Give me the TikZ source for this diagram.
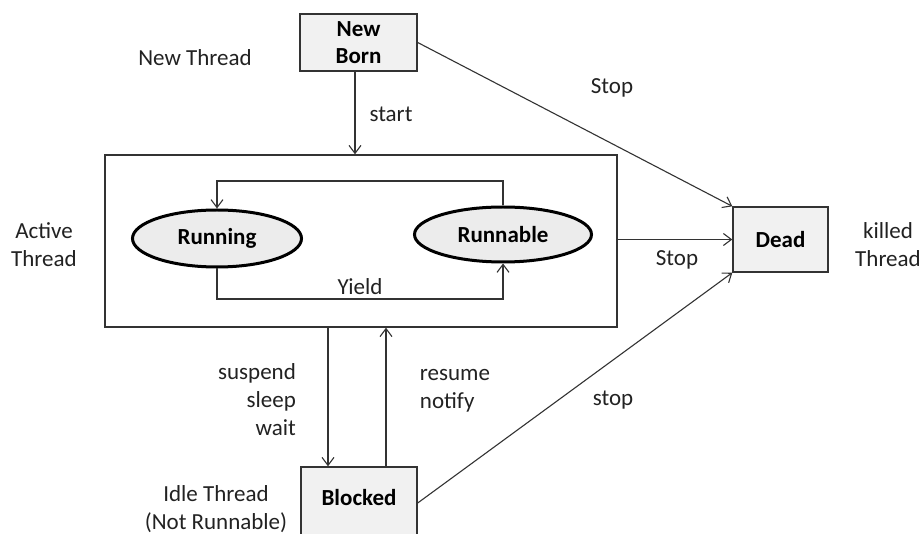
\documentclass[tikz,border=0pt]{standalone}
\usepackage{fontspec}
\setmainfont{Carlito}
\usetikzlibrary{arrows.meta,shapes.geometric,positioning}

\definecolor{boxfill}{HTML}{F1F1F1}
\definecolor{ovalfill}{HTML}{ECECEC}
\definecolor{linegray}{HTML}{333333}
\definecolor{inkgray}{HTML}{222222}

\tikzset{
  lbl/.style={font=\fontsize{23}{28}\selectfont, text=inkgray, inner sep=0pt, align=center},
  stname/.style={font=\fontsize{23}{28}\selectfont\bfseries, text=black, inner sep=0pt, align=center},
  statebox/.style={draw=linegray, line width=1.4pt, fill=boxfill, rectangle, inner sep=0pt,
                   font=\fontsize{23}{28}\selectfont\bfseries, align=center},
  stateoval/.style={draw=black, line width=3pt, fill=ovalfill, ellipse, inner sep=0pt,
                    font=\fontsize{23}{28}\selectfont\bfseries},
  frame/.style={draw=linegray, line width=1.4pt, rectangle, inner sep=0pt},
  arr/.style={draw=linegray, line width=1.1pt, -{Straight Barb[length=8pt,width=12pt,line width=1.1pt]}}
}

\begin{document}
\begin{tikzpicture}[x=1pt,y=-1pt]
\useasboundingbox[fill=white] (0,0) rectangle (919,534);
\begin{scope}
\clip (0,0) rectangle (919,534);

% states
\node[statebox, minimum width=117, minimum height=57] (newborn) at (358.5,42.5) {New\\[-1pt]Born};
\node[frame, minimum width=512, minimum height=172] (active) at (361,241) {};
\node[stateoval, minimum width=169, minimum height=57] (running) at (217,238.5) {Running};
\node[stateoval, minimum width=177, minimum height=55] (runnable) at (503,234.5) {Runnable};
\node[statebox, minimum width=95, minimum height=65] (dead) at (780.5,239.5) {Dead};
\node[statebox, minimum width=116, minimum height=72] (blocked) at (359,503) {};
\node[stname] (blockedtxt) at (359,498) {Blocked};

% side captions
\node[lbl] (capnew) at (195,58) {New Thread};
\node[lbl] (capactive) at (44,245) {Active\\Thread};
\node[lbl] (capdead) at (888,245) {\hfill killed\\Thread};
\node[lbl] (capidle) at (216,509) {Idle Thread\\(Not Runnable)};

% loop inside the active frame
\coordinate (looptop) at (0,181);
\coordinate (loopbot) at (0,299);
\draw[arr] (runnable.north) -- (runnable.north |- looptop) -- (running.north |- looptop) -- (running.north);
\draw[arr] (running.south) -- (running.south |- loopbot) -- (runnable.south |- loopbot) -- (runnable.south);
\node[lbl] (yield) at (360,287) {Yield};

% start
\draw[arr] (355,71) coordinate (startfrom) -- (startfrom |- active.north);
\node[lbl] (start) at (391,114) {start};

% to blocked and back
\coordinate (downx) at (328,0);
\coordinate (upx) at (386,0);
\draw[arr] (downx |- active.south) -- (downx |- blocked.north);
\draw[arr] (upx |- blocked.north) -- (upx |- active.south);
\node[lbl, align=right] (suspend) at (257,400) {suspend\\sleep\\wait};
\node[lbl, align=left] (resume) at (455,391) {resume\\notify};

% transitions to dead
\draw[arr] (newborn.east) -- (dead.north west);
\node[lbl] (stop1) at (612,88) {Stop};
\draw[arr] (active.east |- dead.west) -- (dead.west);
\node[lbl] (stop2) at (677,260) {Stop};
\draw[arr] (blocked.east) -- (dead.south west);
\node[lbl] (stop3) at (613,400) {stop};
\end{scope}
\end{tikzpicture}
\end{document}
